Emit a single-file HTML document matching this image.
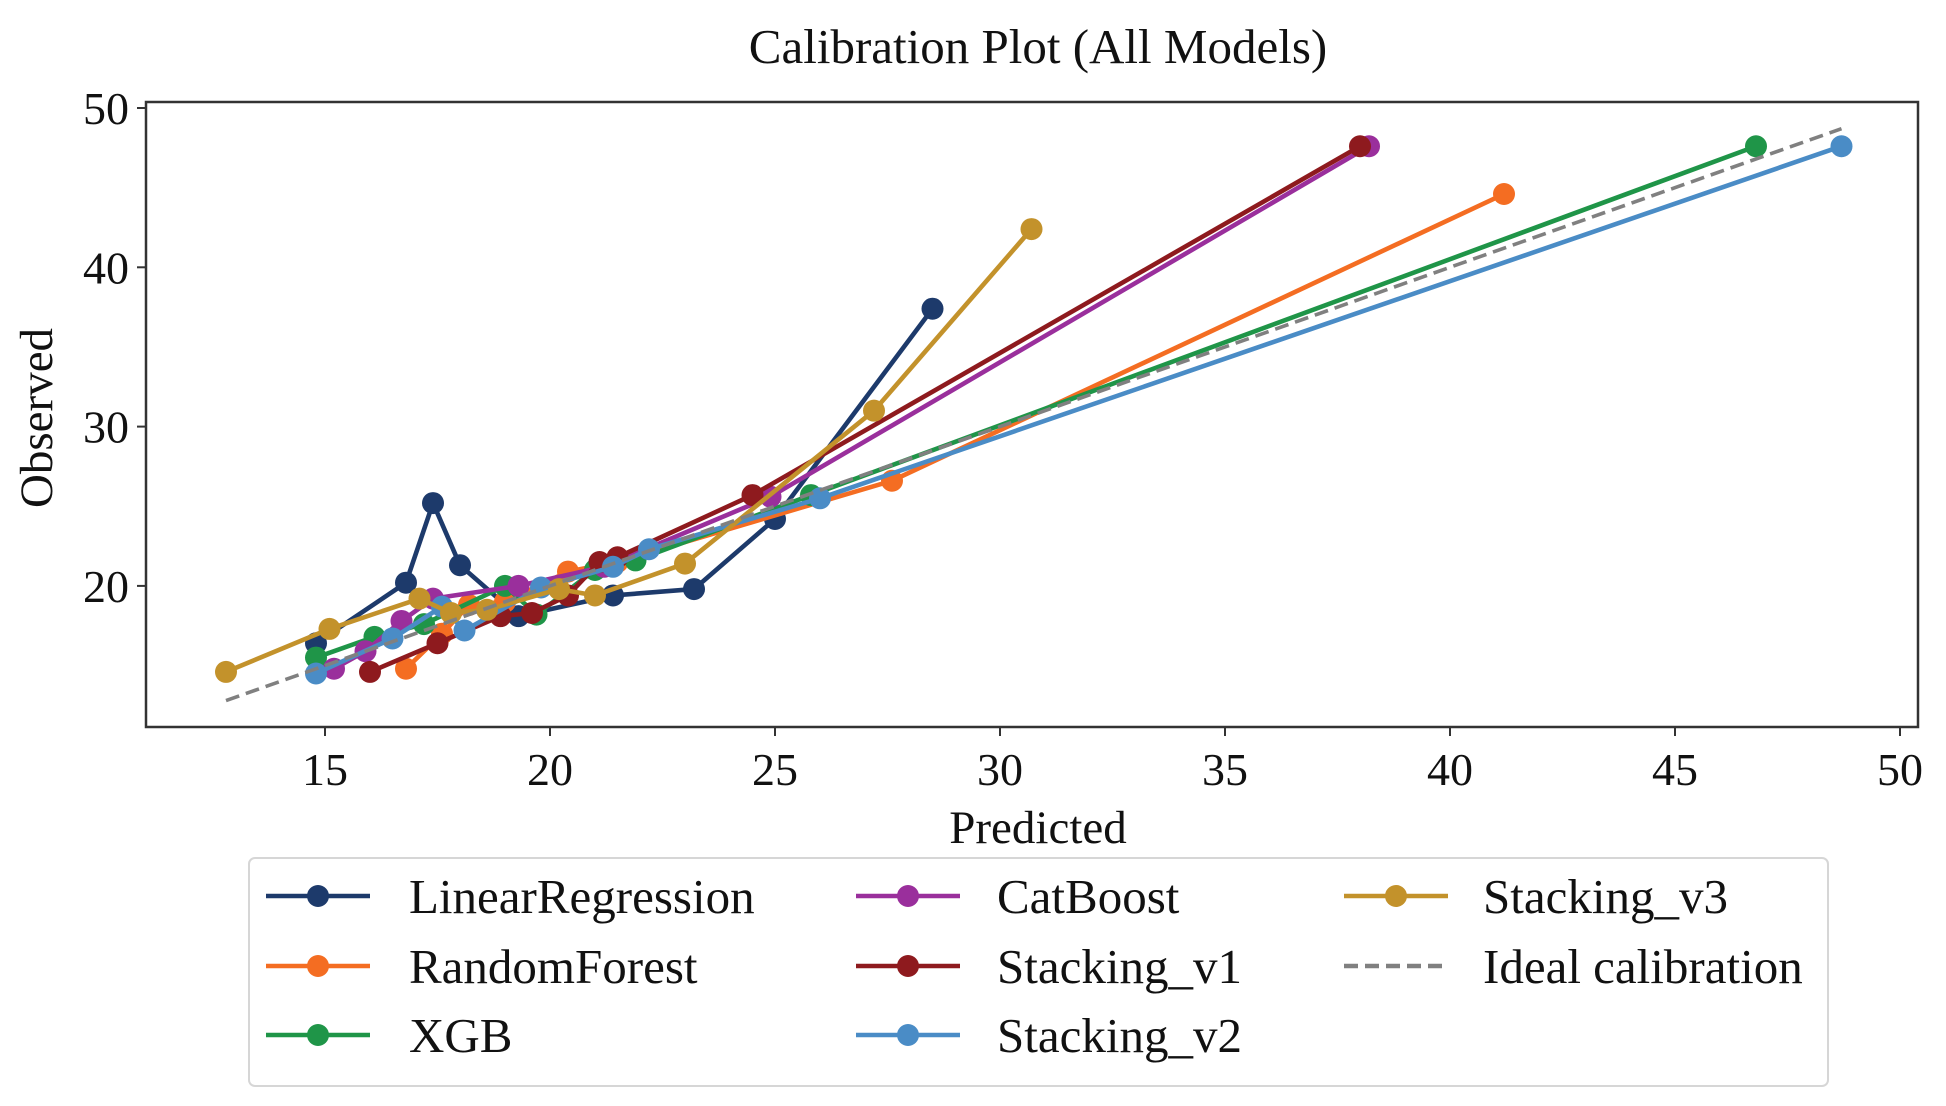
<!DOCTYPE html>
<html><head><meta charset="utf-8"><style>
html,body{margin:0;padding:0;background:#fff;}
svg{display:block;font-family:"Liberation Serif",serif;}
</style></head><body>
<svg id="chart" width="1946" height="1106" viewBox="0 0 1946 1106">
<text x="1038" y="63" font-size="49" text-anchor="middle" fill="#111">Calibration Plot (All Models)</text>
<g id="plot"></g>
<rect x="146" y="102" width="1772" height="625" fill="none" stroke="#333" stroke-width="2.5"/>
<g id="xticks"></g>
<g id="yticks"></g>
<text x="1038" y="843" font-size="47" text-anchor="middle" fill="#111">Predicted</text>
<text transform="translate(52,418) rotate(-90)" font-size="47" text-anchor="middle" fill="#111">Observed</text>
<g id="legend">
<rect x="249" y="858" width="1579" height="228" rx="6" fill="#fff" stroke="#d6d6d6" stroke-width="2"/>
</g>
</svg>
<script>
const xTicks = [15, 20, 25, 30, 35, 40, 45, 50];
const yTicks = [20, 30, 40, 50];
const seriesNames = ["LinearRegression","RandomForest","XGB","CatBoost","Stacking_v1","Stacking_v2","Stacking_v3"];
const seriesColors = ["#1d3a6b","#f46d22","#1f9548","#9a2f9c","#8e1a1e","#4a8cc6","#c3922b"];
const lrX = [14.8,16.8,17.4,18.0,19.3,21.4,23.2,25.0,28.5];
const lrY = [16.4,20.2,25.2,21.3,18.1,19.4,19.8,24.2,37.4];
const rfX = [16.8,17.6,18.2,19.0,20.4,21.5,27.6,41.2];
const rfY = [14.8,17.0,18.8,19.0,20.9,21.5,26.6,44.6];
const xgbX = [14.8,16.1,17.2,19.0,19.7,21.0,21.9,25.8,46.8];
const xgbY = [15.5,16.8,17.6,20.0,18.2,21.0,21.6,25.7,47.6];
const cbX = [15.2,15.9,16.7,17.4,19.3,21.2,24.9,38.2];
const cbY = [14.8,15.9,17.8,19.2,20.0,21.2,25.6,47.6];
const s1X = [16.0,17.5,18.9,19.6,20.4,21.1,21.5,24.5,38.0];
const s1Y = [14.6,16.4,18.1,18.3,19.4,21.5,21.8,25.7,47.6];
const s2X = [14.8,16.5,17.6,18.1,19.8,21.4,22.2,26.0,48.7];
const s2Y = [14.5,16.7,18.7,17.2,19.9,21.2,22.3,25.5,47.6];
const s3X = [12.8,15.1,17.1,17.8,18.6,20.2,21.0,23.0,27.2,30.7];
const s3Y = [14.6,17.3,19.2,18.3,18.5,19.8,19.4,21.4,31.0,42.4];
const idealRange = [12.8, 48.7];

const NS = "http://www.w3.org/2000/svg";
function xs(v){ return 325 + (v - 15) * 45; }
function ys(v){ return 108 + (50 - v) * 15.93; }
function mk(tag, attrs, parent){
  const e = document.createElementNS(NS, tag);
  for (const k in attrs) e.setAttribute(k, attrs[k]);
  parent.appendChild(e);
  return e;
}
const plot = document.getElementById("plot");
const xg = document.getElementById("xticks");
const yg = document.getElementById("yticks");
const lg = document.getElementById("legend");

xTicks.forEach(t => {
  const l = mk("line", {x1: xs(t), x2: xs(t), y1: 727, y2: 736, stroke: "#333", "stroke-width": 2}, xg);
  
  
  const tx = mk("text", {x: xs(t), y: 785, "font-size": 46, "text-anchor": "middle", fill: "#111"}, xg);
  tx.textContent = t;
  
  
});
yTicks.forEach(t => {
  const l = mk("line", {x1: 137, x2: 146, y1: ys(t), y2: ys(t), stroke: "#333", "stroke-width": 2}, yg);
  
  
  const tx = mk("text", {x: 129, y: ys(t) + 16, "font-size": 46, "text-anchor": "end", fill: "#111"}, yg);
  tx.textContent = t;
  
  
});

const allX = [lrX, rfX, xgbX, cbX, s1X, s2X, s3X];
const allY = [lrY, rfY, xgbY, cbY, s1Y, s2Y, s3Y];
allX.forEach((xa, i) => {
  const ya = allY[i];
  const g = mk("g", {}, plot);
  
  
  const pts = xa.map((x, j) => xs(x) + "," + ys(ya[j])).join(" ");
  const pl = mk("polyline", {points: pts, fill: "none", stroke: seriesColors[i], "stroke-width": 4.6, "stroke-linejoin": "round"}, g);
  
  
  xa.forEach((x, j) => {
    const c = mk("circle", {cx: xs(x), cy: ys(ya[j]), r: 11, fill: seriesColors[i]}, g);
    
    
  });
});
const ideal = mk("line", {x1: xs(idealRange[0]), y1: ys(idealRange[0]), x2: xs(idealRange[1]), y2: ys(idealRange[1]), stroke: "#808080", "stroke-width": 3.6, "stroke-dasharray": "14,7"}, plot);



const colHandle = [266, 856, 1344];
const colText = [409, 997, 1483];
const rowY = [896, 966, 1035];
const entries = seriesNames.map((n, i) => ({name: n, color: seriesColors[i], dash: false}));
entries.push({name: "Ideal calibration", color: "#808080", dash: true});
entries.forEach((e, i) => {
  const col = Math.floor(i / 3), row = i % 3;
  const g = mk("g", {}, lg);
  
  
  const y = rowY[row], hx = colHandle[col];
  const ln = mk("line", {x1: hx, x2: hx + 104, y1: y, y2: y, stroke: e.color, "stroke-width": 4.6}, g);
  if (e.dash) ln.setAttribute("stroke-dasharray", "14,7");
  if (!e.dash) mk("circle", {cx: hx + 52, cy: y, r: 11, fill: e.color}, g);
  const t = mk("text", {x: colText[col], y: y + 17, "font-size": 49, fill: "#111"}, g);
  t.textContent = e.name;
});
</script>
</body></html>
